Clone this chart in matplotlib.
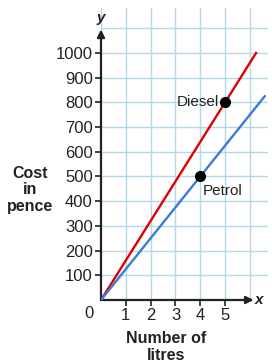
import numpy as np
import matplotlib.pyplot as plt

# data
litres_diesel = [0, 6.25]
cost_diesel = [0, 1000]
litres_petrol = [0, 6.6]
cost_petrol = [0, 825]
diesel_point = (5, 800)
petrol_point = (4, 500)
x_ticks = [1, 2, 3, 4, 5]
y_ticks = [100, 200, 300, 400, 500, 600, 700, 800, 900, 1000]

plt.rcParams['font.family'] = ['Liberation Sans', 'DejaVu Sans']

fig = plt.figure(figsize=(2.72, 3.63), dpi=100)
ax = fig.add_axes([101 / 272, 1 - 300 / 363, 167 / 272, 292 / 363])
ax.set_xlim(0, 6.73)
ax.set_ylim(0, 1182)

# light blue grid
for gx in range(1, 7):
    ax.axvline(gx, color='#b5d8e6', lw=1, zorder=0)
for gy in range(100, 1200, 100):
    ax.axhline(gy, color='#b5d8e6', lw=1, zorder=0)
ax.plot([0, 0], [1090, 1182], color='#b5d8e6', lw=1, zorder=0)

for s in ax.spines.values():
    s.set_visible(False)

# axes with arrows
ax.annotate('', xy=(0, 1095), xytext=(0, 0),
            arrowprops=dict(arrowstyle='-|>', color='#222222', lw=1.6,
                            mutation_scale=11, shrinkA=0, shrinkB=0))
ax.annotate('', xy=(6.15, 0), xytext=(0, 0),
            arrowprops=dict(arrowstyle='-|>', color='#222222', lw=1.6,
                            mutation_scale=11, shrinkA=0, shrinkB=0),
            annotation_clip=False)

ax.plot(litres_diesel, cost_diesel, color='#e00000', lw=1.7, zorder=3)
ax.plot(litres_petrol, cost_petrol, color='#3a7bd5', lw=1.7, zorder=3)
ax.plot(*diesel_point, 'o', color='black', ms=7, zorder=4)
ax.plot(*petrol_point, 'o', color='black', ms=7, zorder=4)
ax.text(4.75, 800, 'Diesel', ha='right', va='center', fontsize=11, color='#222222')
ax.text(4.1, 440, 'Petrol', ha='left', va='center', fontsize=11, color='#222222')

ax.set_xticks(x_ticks)
ax.set_yticks(y_ticks)
ax.tick_params(axis='both', length=4, width=1.2, color='#222222',
               labelsize=12, labelcolor='#222222', pad=2)
ax.text(-0.5, -55, '0', ha='center', va='center', fontsize=12, color='#222222')

ax.text(0, 1140, 'y', ha='center', va='center', fontsize=11, style='italic',
        fontweight='bold', color='#222222', clip_on=False)
ax.text(6.35, 0, 'x', ha='center', va='center', fontsize=11, style='italic',
        fontweight='bold', color='#222222', clip_on=False)

fig.text(30 / 272, 1 - 190 / 363, 'Cost\nin\npence', ha='center', va='center',
         fontsize=11.5, fontweight='bold', linespacing=1.1, color='#222222')
fig.text(166 / 272, 1 - 347 / 363, 'Number of\nlitres', ha='center', va='center',
         fontsize=11.5, fontweight='bold', linespacing=1.1, color='#222222')

fig.savefig('out.png', dpi=100)
